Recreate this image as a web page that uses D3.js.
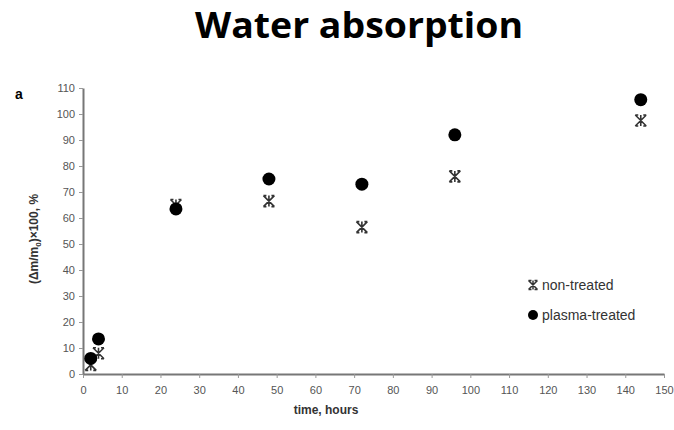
<!DOCTYPE html>
<html>
<head>
<meta charset="utf-8">
<script src="https://cdn.jsdelivr.net/npm/d3@7"></script>
<style>
  body { margin: 0; background: #fff; }
  svg { display: block; }
</style>
</head>
<body>
<svg id="chart"></svg>
<script>
// time (hours) at which samples were weighed
let hours = [2, 4, 24, 48, 72, 96, 144];
// (dm/m0) x 100, %
let nonTreated = [3.5, 8, 65, 66.5, 56.5, 76, 97.5];
let plasmaTreated = [6, 13.5, 63.5, 75, 73, 92, 105.5];

let xTicks = d3.range(0, 151, 10);
let yTicks = d3.range(0, 111, 10);

let width = 674;
let height = 430;
let margin = {top: 88, right: 10, bottom: 56, left: 83};

let svg = d3.select('#chart')
    .attr('width', width)
    .attr('height', height);

let xScale = d3.scaleLinear()
    .domain([0, 150])
    .range([margin.left, 664]);

let yScale = d3.scaleLinear()
    .domain([0, 110])
    .range([374, margin.top]);

// title
svg.append('text')
    .attr('x', 359)
    .attr('y', 38)
    .attr('text-anchor', 'middle')
    .attr('textLength', 328)
    .attr('lengthAdjust', 'spacingAndGlyphs')
    .style('font-family', '"Open Sans", sans-serif')
    .style('font-weight', 'bold')
    .style('font-size', '35px')
    .style('fill', '#000')
    .text('Water absorption');

// panel letter
svg.append('text')
    .attr('x', 15)
    .attr('y', 99)
    .style('font-family', '"Liberation Sans", Arial, sans-serif')
    .style('font-weight', 'bold')
    .style('font-size', '14px')
    .text('a');

let xAxis = d3.axisBottom(xScale)
    .tickValues(xTicks)
    .tickSize(4)
    .tickSizeOuter(0);

let yAxis = d3.axisLeft(yScale)
    .tickValues(yTicks)
    .tickSize(4)
    .tickSizeOuter(0);

let gx = svg.append('g')
    .attr('transform', 'translate(0,' + yScale(0) + ')')
    .call(xAxis);

let gy = svg.append('g')
    .attr('transform', 'translate(' + xScale(0) + ',0)')
    .call(yAxis);

[gx, gy].forEach(function (g) {
    g.select('.domain').attr('stroke', '#777').attr('stroke-width', 2);
    g.selectAll('.tick line').attr('stroke', '#999').attr('stroke-width', 1);
    g.selectAll('.tick text')
        .style('font-family', '"Liberation Sans", Arial, sans-serif')
        .style('font-size', '11px')
        .style('fill', '#555');
});
gx.selectAll('.tick text').attr('dy', '1.2em');
gy.selectAll('.tick text').attr('x', -8);

// axis titles
svg.append('text')
    .attr('x', 326)
    .attr('y', 414)
    .attr('text-anchor', 'middle')
    .style('font-family', '"Liberation Sans", Arial, sans-serif')
    .style('font-weight', 'bold')
    .style('font-size', '12px')
    .style('fill', '#333')
    .text('time, hours');

let yLabel = svg.append('text')
    .attr('transform', 'translate(38,239) rotate(-90)')
    .attr('text-anchor', 'middle')
    .style('font-family', '"Liberation Sans", Arial, sans-serif')
    .style('font-weight', 'bold')
    .style('font-size', '12px')
    .style('fill', '#333');
yLabel.append('tspan').text('(\u0394m/m');
yLabel.append('tspan').attr('dy', 3).style('font-size', '8px').text('0');
yLabel.append('tspan').attr('dy', -3).text(')\u00d7100, %');

// star marker: x with a vertical stroke and short caps
function starPath(cx, cy, s) {
    return 'M' + (cx - s) + ',' + (cy - s) + 'L' + (cx + s) + ',' + (cy + s) +
        'M' + (cx - s) + ',' + (cy + s) + 'L' + (cx + s) + ',' + (cy - s) +
        'M' + cx + ',' + (cy - s) + 'L' + cx + ',' + (cy + s) +
        'M' + (cx - s) + ',' + (cy - s) + 'L' + (cx - s + 3) + ',' + (cy - s) +
        'M' + (cx + s - 3) + ',' + (cy - s) + 'L' + (cx + s) + ',' + (cy - s) +
        'M' + (cx - s) + ',' + (cy + s) + 'L' + (cx - s + 3) + ',' + (cy + s) +
        'M' + (cx + s - 3) + ',' + (cy + s) + 'L' + (cx + s) + ',' + (cy + s);
}

svg.append('g')
    .selectAll('path')
    .data(hours)
    .enter()
    .append('path')
    .attr('d', function (d, i) {
        return starPath(xScale(d), yScale(nonTreated[i]), 5.5);
    })
    .attr('fill', 'none')
    .attr('stroke', '#333')
    .attr('stroke-width', 1.6);

svg.append('g')
    .selectAll('circle')
    .data(hours)
    .enter()
    .append('circle')
    .attr('cx', function (d) {
        return xScale(d);
    })
    .attr('cy', function (d, i) {
        return yScale(plasmaTreated[i]);
    })
    .attr('r', 6.5)
    .style('fill', '#000');

// legend
let legend = svg.append('g')
    .attr('transform', 'translate(533,0)');

legend.append('path')
    .attr('d', starPath(0, 285, 4.5))
    .attr('fill', 'none')
    .attr('stroke', '#333')
    .attr('stroke-width', 1.5);

legend.append('circle')
    .attr('cx', 0)
    .attr('cy', 315)
    .attr('r', 5)
    .style('fill', '#000');

legend.selectAll('text')
    .data(['non-treated', 'plasma-treated'])
    .enter()
    .append('text')
    .attr('x', 9)
    .attr('y', function (d, i) {
        return 290 + i * 30;
    })
    .style('font-family', '"Liberation Sans", Arial, sans-serif')
    .style('font-size', '14px')
    .style('fill', '#333')
    .text(function (d) {
        return d;
    });
</script>
</body>
</html>
